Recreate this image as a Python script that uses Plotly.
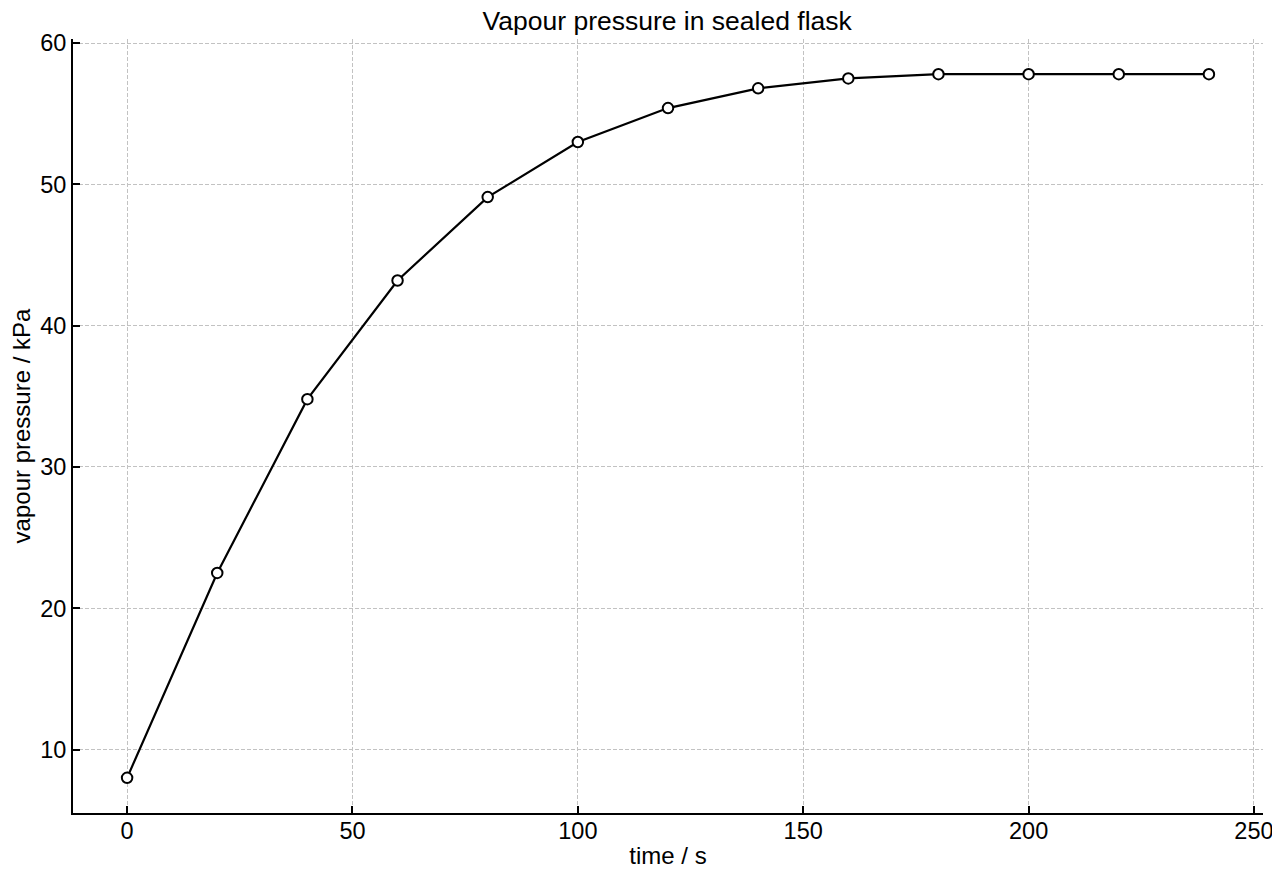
import plotly.graph_objects as go

# time / s and measured vapour pressure / kPa
time_s = [0, 20, 40, 60, 80, 100, 120, 140, 160, 180, 200, 220, 240]
pressure_kpa = [8.0, 22.5, 34.8, 43.2, 49.1, 53.0, 55.4, 56.8, 57.5, 57.8, 57.8, 57.8, 57.8]

x_ticks = [0, 50, 100, 150, 200, 250]
y_ticks = [10, 20, 30, 40, 50, 60]

FONT = "Liberation Sans, Arial, Helvetica, sans-serif"

fig = go.Figure()
fig.add_trace(go.Scatter(
    x=time_s,
    y=pressure_kpa,
    mode="lines+markers",
    line=dict(color="black", width=2.2),
    marker=dict(size=10.5, color="white", line=dict(color="black", width=2)),
    showlegend=False,
))

axis_common = dict(
    showline=True,
    linecolor="black",
    linewidth=2,
    mirror=False,
    ticks="inside",
    ticklen=7,
    tickwidth=2,
    tickcolor="black",
    showgrid=True,
    gridcolor="#c2c2c2",
    gridwidth=1,
    griddash="4px,2px",
    zeroline=False,
    automargin=False,
    tickfont=dict(size=23.5, color="black", family=FONT),
)

fig.update_xaxes(
    range=[-12, 252],
    tickvals=x_ticks,
    ticklabelstandoff=-4,
    title=dict(text="time / s", font=dict(size=24, color="black", family=FONT), standoff=4),
    **axis_common,
)
fig.update_yaxes(
    range=[5.51, 60.29],
    tickvals=y_ticks,
    title=dict(text="vapour pressure / kPa", font=dict(size=24, color="black", family=FONT), standoff=3),
    **axis_common,
)

# page body has an 8px margin, so the margins below are shifted to compensate
fig.update_layout(
    width=1280,
    height=880,
    title=dict(
        text="Vapour pressure in sealed flask",
        x=0.515,
        xanchor="center",
        y=0.985,
        yanchor="middle",
        font=dict(size=26.5, color="black", family=FONT),
    ),
    font=dict(family=FONT, color="black"),
    plot_bgcolor="white",
    paper_bgcolor="white",
    margin=dict(l=65, r=25, t=31, b=75),
)

fig.write_html("out.html")
